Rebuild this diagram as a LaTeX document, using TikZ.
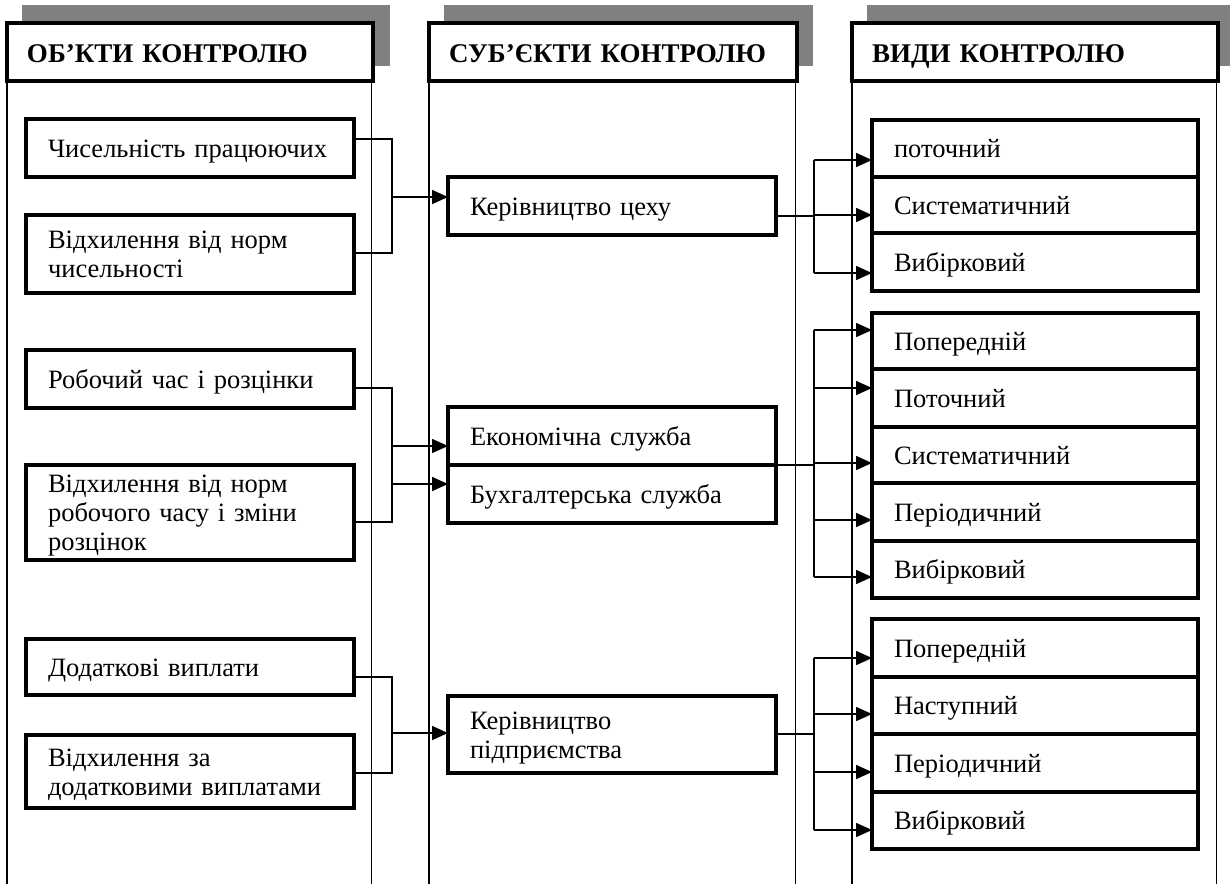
\documentclass[tikz,border=0pt]{standalone}
\usepackage{fontspec}
\setmainfont{Liberation Serif}
\usetikzlibrary{arrows.meta,calc}

\begin{document}
\begin{tikzpicture}[x=1pt,y=-1pt,
  shade/.style={fill=black!50,draw=none},
  headbox/.style={draw,fill=white,line width=3.5pt,anchor=north west,outer sep=0pt,
    inner xsep=20pt,inner ysep=0pt,minimum height=58pt,align=left,
    text height=22pt,text depth=2pt,
    font=\bfseries\fontsize{27}{30}\selectfont},
  box/.style={draw,line width=3.2pt,anchor=north west,outer sep=0pt,
    inner xsep=22pt,inner ysep=0pt,align=left,
    font=\fontsize{26.5}{29}\selectfont},
  lbox/.style={box,text width=284pt},
  rbox/.style={box,text width=282pt},
  oneline/.style={text height=21pt,text depth=3pt},
  twoline/.style={text height=21pt,text depth=32pt},
  threeline/.style={text height=21pt,text depth=61pt},
  colline/.style={line width=1.4pt},
  wire/.style={line width=1.3pt},
  arr/.style={line width=1.6pt,-{Triangle[length=16pt,width=14pt]}}
]
\useasboundingbox (0,0) rectangle (1230,884);
\clip (0,0) rectangle (1230,884);

% gray shadows behind the column headers
\fill[shade] (22,5) rectangle (390,66);
\fill[shade] (444,5) rectangle (813,66);
\fill[shade] (867,5) rectangle (1240,66);

% column headers
\node[headbox,text width=326pt] (h1) at (7,23) {ОБ’КТИ КОНТРОЛЮ};
\node[headbox,text width=328pt] (h2) at (429,23) {СУБ’ЄКТИ КОНТРОЛЮ};
\node[headbox,text width=326pt] (h3) at (852,23) {ВИДИ КОНТРОЛЮ};

% column side lines
\foreach \h in {h1,h2,h3}{
  \draw[colline] (\h.south west) -- (\h.south west |- 0,884);
  \draw[colline] ([xshift=-1.5pt]\h.south east) -- ([xshift=-1.5pt]\h.south east |- 0,884);
}

% objects of control
\node[lbox,oneline,minimum height=58pt] (o1) at (26,119) {Чисельність працюючих};
\node[lbox,twoline,minimum height=78pt] (o2) at (26,215) {Відхилення від норм\\чисельності};
\node[lbox,oneline,minimum height=58pt] (o3) at (26,350) {Робочий час і розцінки};
\node[lbox,threeline,minimum height=95pt] (o4) at (26,465) {Відхилення від норм\\робочого часу і зміни\\розцінок};
\node[lbox,oneline,minimum height=56pt] (o5) at (26,639) {Додаткові виплати};
\node[lbox,twoline,minimum height=73pt] (o6) at (26,735) {Відхилення за\\додатковими виплатами};

% subjects of control
\node[lbox,oneline,minimum height=58pt] (s1) at (448,177) {Керівництво цеху};
\node[lbox,oneline,minimum height=58pt] (s2a) at (448,407) {Економічна служба};
\node[lbox,oneline,minimum height=58pt] (s2b) at (448,465) {Бухгалтерська служба};
\node[lbox,twoline,minimum height=77pt] (s3) at (448,696) {Керівництво\\підприємства};

% kinds of control
\node[rbox,oneline,minimum height=57pt] (v1) at (872,120) {поточний};
\node[rbox,oneline,minimum height=56pt] (v2) at (872,177) {Систематичний};
\node[rbox,oneline,minimum height=58pt] (v3) at (872,233) {Вибірковий};

\node[rbox,oneline,minimum height=56pt] (w1) at (872,313) {Попередній};
\node[rbox,oneline,minimum height=58pt] (w2) at (872,369) {Поточний};
\node[rbox,oneline,minimum height=56pt] (w3) at (872,427) {Систематичний};
\node[rbox,oneline,minimum height=58pt] (w4) at (872,483) {Періодичний};
\node[rbox,oneline,minimum height=57pt] (w5) at (872,541) {Вибірковий};

\node[rbox,oneline,minimum height=58pt] (u1) at (872,619) {Попередній};
\node[rbox,oneline,minimum height=57pt] (u2) at (872,677) {Наступний};
\node[rbox,oneline,minimum height=58pt] (u3) at (872,734) {Періодичний};
\node[rbox,oneline,minimum height=57pt] (u4) at (872,792) {Вибірковий};

% bus points of the left brackets
\coordinate (a1) at (392,197);
\coordinate (a2) at (392,446);
\coordinate (a3) at (392,484);
\coordinate (a4) at (392,733);

\draw[wire] (o1.east |- 0,139) -| (a1) |- (o2.east |- 0,253);
\draw[arr] (a1) -- (s1.west |- a1);

\draw[wire] (o3.east |- 0,388) -| (a2) |- (o4.east |- 0,522);
\draw[arr] (a2) -- (s2a.west |- a2);
\draw[arr] (a3) -- (s2b.west |- a3);

\draw[wire] (o5.east |- 0,677) -| (a4) |- (o6.east |- 0,773);
\draw[arr] (a4) -- (s3.west |- a4);

% bus points of the right forks
\coordinate (b1) at (814,216);
\coordinate (b1t) at (814,160);
\coordinate (b1m) at (814,215);
\coordinate (b1b) at (814,273);
\draw[wire] (s1.east |- b1) -- (b1);
\draw[wire] (b1t) -- (b1b);
\draw[arr] (b1t) -- (v1.west |- b1t);
\draw[arr] (b1m) -- (v2.west |- b1m);
\draw[arr] (b1b) -- (v3.west |- b1b);

\coordinate (b2) at (814,465);
\coordinate (b2a) at (814,330);
\coordinate (b2b) at (814,388);
\coordinate (b2c) at (814,463);
\coordinate (b2d) at (814,520);
\coordinate (b2e) at (814,577);
\draw[wire] (s2a.south east) -- (b2);
\draw[wire] (b2a) -- (b2e);
\draw[arr] (b2a) -- (w1.west |- b2a);
\draw[arr] (b2b) -- (w2.west |- b2b);
\draw[arr] (b2c) -- (w3.west |- b2c);
\draw[arr] (b2d) -- (w4.west |- b2d);
\draw[arr] (b2e) -- (w5.west |- b2e);

\coordinate (b3) at (814,734);
\coordinate (b3a) at (814,658);
\coordinate (b3b) at (814,714);
\coordinate (b3c) at (814,772);
\coordinate (b3d) at (814,830);
\draw[wire] (s3.east |- b3) -- (b3);
\draw[wire] (b3a) -- (b3d);
\draw[arr] (b3a) -- (u1.west |- b3a);
\draw[arr] (b3b) -- (u2.west |- b3b);
\draw[arr] (b3c) -- (u3.west |- b3c);
\draw[arr] (b3d) -- (u4.west |- b3d);
\end{tikzpicture}
\end{document}
